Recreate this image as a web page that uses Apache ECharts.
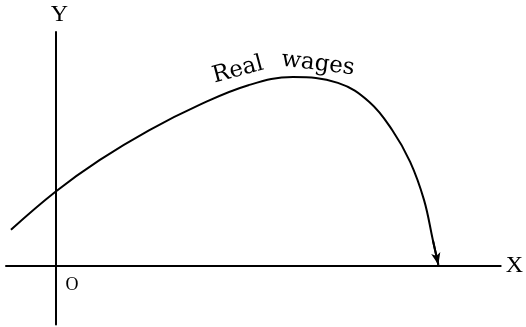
<!DOCTYPE html>
<html>
<head>
<meta charset="utf-8">
<title>Real wages</title>
<script src="https://cdn.jsdelivr.net/npm/echarts@6/dist/echarts.min.js"></script>
<style>
  html, body { margin: 0; padding: 0; background: #fff; }
  #main { width: 526px; height: 327px; }
</style>
</head>
<body>
<div id="main"></div>
<script>
// curve (arbitrary units, origin at O)
var wageX = [-9.0, 0, 8.9, 18.9, 29.0, 39.0, 48.0, 57.1, 63.5, 68.1, 71.7, 74.5, 76.3, 77.4];
var wageY = [6.2, 12.7, 18.1, 23.2, 27.5, 30.9, 32.3, 31.3, 28.0, 23.2, 17.8, 11.3, 4.4, 0.2];
var xRange = [-10, 90];
var yRange = [-10, 40];

var myChart = echarts.init(document.getElementById('main'));

var points = wageX.map(function (x, i) {
  return [x, wageY[i]];
});
var n = points.length;

var serif = 'Liberation Serif, Times New Roman, serif';

var option = {
  backgroundColor: '#fff',
  animation: false,
  grid: {
    left: 6,
    right: 22,
    top: 32,
    bottom: 2.5
  },
  xAxis: {
    type: 'value',
    min: xRange[0],
    max: xRange[1],
    name: 'X',
    nameLocation: 'end',
    nameGap: 5,
    nameTextStyle: {
      color: '#000',
      fontFamily: serif,
      fontSize: 24,
      padding: [4, 0, 0, 0]
    },
    axisLine: { onZero: true, lineStyle: { color: '#000', width: 2 } },
    axisTick: { show: false },
    axisLabel: { show: false },
    splitLine: { show: false }
  },
  yAxis: {
    type: 'value',
    min: yRange[0],
    max: yRange[1],
    name: 'Y',
    nameLocation: 'end',
    nameGap: 5,
    nameTextStyle: {
      color: '#000',
      fontFamily: serif,
      fontSize: 24,
      align: 'center',
      padding: [0, 0, 0, 8]
    },
    axisLine: { onZero: true, lineStyle: { color: '#000', width: 2 } },
    axisTick: { show: false },
    axisLabel: { show: false },
    splitLine: { show: false }
  },
  series: [
    {
      name: 'Real wages',
      type: 'line',
      data: points,
      smooth: 0.4,
      symbol: 'none',
      lineStyle: { color: '#000', width: 2 },
      markLine: {
        silent: true,
        symbol: ['none', 'arrow'],
        symbolSize: [7, 12],
        label: { show: false },
        lineStyle: { color: '#000', width: 2, type: 'solid' },
        data: [[{ coord: points[n - 2] }, { coord: points[n - 1] }]]
      }
    }
  ],
  graphic: [
    {
      type: 'text',
      x: 238,
      y: 70,
      rotation: 15 * Math.PI / 180,
      style: {
        text: 'Real',
        fill: '#000',
        fontFamily: 'DejaVu Serif',
        fontSize: 23,
        textAlign: 'center',
        textVerticalAlign: 'middle'
      }
    },
    {
      type: 'text',
      x: 318,
      y: 64,
      rotation: -7 * Math.PI / 180,
      style: {
        text: 'wages',
        fill: '#000',
        fontFamily: 'DejaVu Serif',
        fontSize: 23,
        textAlign: 'center',
        textVerticalAlign: 'middle'
      }
    },
    {
      type: 'text',
      x: 72,
      y: 285,
      style: {
        text: 'O',
        fill: '#000',
        fontFamily: serif,
        fontSize: 18,
        textAlign: 'center',
        textVerticalAlign: 'middle'
      }
    }
  ]
};

myChart.setOption(option);
window.onresize = function () {
  myChart.resize();
};
</script>
</body>
</html>
